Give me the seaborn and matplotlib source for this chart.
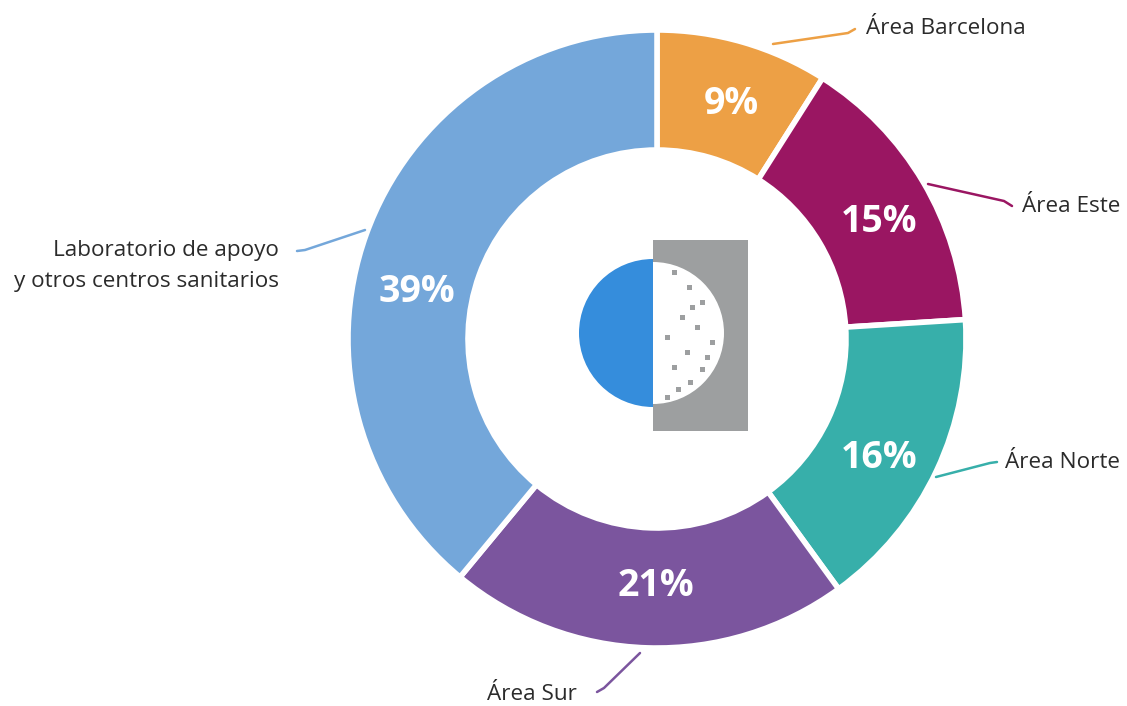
import matplotlib
matplotlib.use("Agg")
import matplotlib.pyplot as plt
import seaborn as sns
from matplotlib.patches import Rectangle, Wedge

categories = ["Área Barcelona", "Área Este", "Área Norte", "Área Sur",
              "Laboratorio de apoyo\ny otros centros sanitarios"]
values = [9, 15, 16, 21, 39]
colors = ["#EDA045", "#9A1662", "#37AFAA", "#7B559E", "#74A7DA"]

sns.set_theme(style="white")
plt.rcParams['font.family'] = ['Open Sans', 'DejaVu Sans']

W, H = 1127, 706
fig = plt.figure(figsize=(W / 100, H / 100), dpi=100)
ax = fig.add_axes([0, 0, 1, 1])

cx, cy = 657, H - 339
R = 309
ring = 120

wedges, _, autotexts = ax.pie(values, colors=colors, startangle=90, counterclock=False,
                              center=(cx, cy), radius=R, autopct='%d%%',
                              pctdistance=(R - ring / 2) / R,
                              wedgeprops=dict(width=ring, edgecolor='white', linewidth=4),
                              textprops=dict(color='white', fontsize=27, fontweight='bold'),
                              frame=True)
ax.set_xlim(0, W)
ax.set_ylim(0, H)
ax.set_aspect('equal')
ax.axis('off')


def yy(y):
    return H - y


# placement of the percentage labels (pixels from top-left)
pct_pos = [(731, 100), (879, 217), (879, 454), (656, 582), (417, 287)]
for t, (px, py) in zip(autotexts, pct_pos):
    t.set_position((px, yy(py)))
    t.set_va('center_baseline')

leaders = [
    ([(773, 44), (848, 33), (855, 29)], (866, 29), 'left'),
    ([(928, 184), (1004, 201), (1012, 206)], (1022, 207), 'left'),
    ([(936, 477), (990, 463), (997, 462)], (1005, 463), 'left'),
    ([(640, 653), (604, 688), (597, 692)], (577, 694), 'right'),
    ([(365, 230), (305, 250), (297, 251)], (279, 266), 'right'),
]
for (pts, tpos, ha), c, lab in zip(leaders, colors, categories):
    xs = [p[0] for p in pts]
    ys = [yy(p[1]) for p in pts]
    ax.plot(xs, ys, color=c, lw=1.8, solid_capstyle='round')
    ax.text(tpos[0], yy(tpos[1]), lab, ha=ha, va='center', fontsize=16.2,
            color='#2b2b2b', linespacing=1.62,
            multialignment='right' if ha == 'right' else 'left')

# center logo (decoration)
ax.add_patch(Rectangle((653, yy(431)), 95, 191, facecolor='#9D9FA0', edgecolor='none'))
ax.add_patch(Wedge((653, yy(333)), 74, 90, 270, facecolor='#358DDC', edgecolor='none'))
ax.add_patch(Wedge((653, yy(333)), 71, -90, 90, facecolor='white', edgecolor='none'))
for gx, gy in [(672, 275), (687, 290), (700, 305), (680, 320), (695, 330), (665, 340),
               (710, 345), (685, 355), (672, 370), (700, 372), (688, 385), (712, 380),
               (676, 392), (665, 400), (705, 360), (690, 310)]:
    ax.add_patch(Rectangle((gx, yy(gy)), 5, 5, facecolor='#9D9FA0', edgecolor='none'))

fig.savefig("out.png", dpi=100)
